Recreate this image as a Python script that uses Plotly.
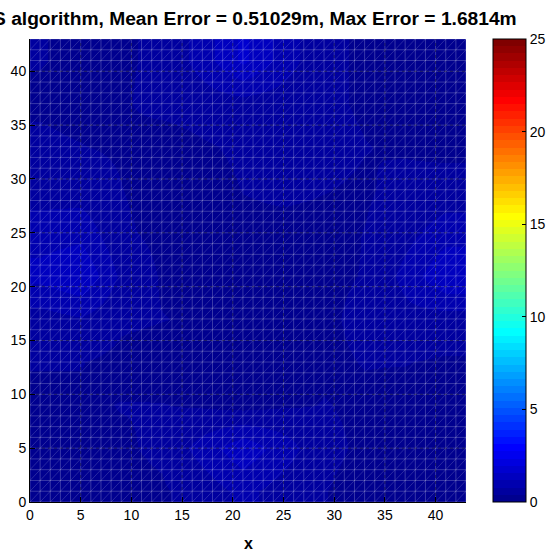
import numpy as np
import plotly.graph_objects as go

# ---------------- data ----------------
x_pts = [1, 5, 9, 13, 17, 21, 25, 29, 33, 37, 41]
y_pts = [1, 5, 9, 13, 17, 21, 25, 29, 33, 37, 41]
# rows: y = 1 ... 41 (bottom to top), columns: x = 1 ... 41
err_y1  = [0.35, 0.30, 0.30, 0.35, 0.55, 0.90, 0.60, 0.40, 0.30, 0.30, 0.35]
err_y5  = [0.35, 0.35, 0.35, 0.45, 0.95, 1.45, 1.00, 0.45, 0.35, 0.30, 0.30]
err_y9  = [0.35, 0.35, 0.40, 0.40, 0.35, 0.25, 0.35, 0.40, 0.35, 0.30, 0.30]
err_y13 = [0.40, 0.40, 0.30, 0.25, 0.35, 0.30, 0.30, 0.35, 0.40, 0.40, 0.35]
err_y17 = [0.60, 0.75, 0.45, 0.40, 0.35, 0.25, 0.25, 0.35, 0.45, 0.65, 0.60]
err_y21 = [1.30, 1.55, 0.70, 0.35, 0.30, 0.30, 0.30, 0.35, 0.40, 0.90, 1.55]
err_y25 = [1.00, 1.05, 0.45, 0.30, 0.25, 0.30, 0.30, 0.30, 0.40, 0.65, 1.00]
err_y29 = [0.60, 0.60, 0.40, 0.25, 0.25, 0.40, 0.45, 0.40, 0.35, 0.50, 0.55]
err_y33 = [0.45, 0.40, 0.35, 0.20, 0.35, 0.45, 0.40, 0.50, 0.40, 0.35, 0.30]
err_y37 = [0.35, 0.30, 0.35, 0.50, 0.55, 0.60, 0.55, 0.45, 0.35, 0.30, 0.35]
err_y41 = [0.40, 0.35, 0.35, 0.45, 0.95, 1.65, 1.00, 0.45, 0.35, 0.30, 0.35]
err_rows = [err_y1, err_y5, err_y9, err_y13, err_y17, err_y21,
            err_y25, err_y29, err_y33, err_y37, err_y41]

mesh_nodes = list(range(0, 44))          # triangulated mesh nodes 0..43
tick_vals = [0, 5, 10, 15, 20, 25, 30, 35, 40]
cbar_ticks = [0, 5, 10, 15, 20, 25]
title_text = ("<b>S algorithm, Mean Error = 0.51029m, "
              "Max Error = 1.6814m</b>")

# ---------------- MATLAB jet(64) colormap ----------------
def matlab_jet(m=64):
    n = int(np.ceil(m / 4))
    u = np.concatenate([np.arange(1, n + 1) / n, np.ones(n - 1),
                        np.arange(n, 0, -1) / n])
    g = int(np.ceil(n / 2)) - (1 if m % 4 == 1 else 0) + np.arange(1, len(u) + 1)
    r = g + n
    b = g - n
    J = np.zeros((m, 3))
    r = r[r <= m]
    g = g[g <= m]
    b = b[b >= 1]
    J[r - 1, 0] = u[:len(r)]
    J[g - 1, 1] = u[:len(g)]
    J[b - 1, 2] = u[len(u) - len(b):]
    return J

J = matlab_jet(64)
cscale = []
for i, c in enumerate(J):
    col = "rgb(%d,%d,%d)" % tuple(int(round(v * 255)) for v in c)
    cscale.append([i / 64, col])
    cscale.append([(i + 1) / 64, col])

# plot-area geometry in pixels
PL, PT, PR, PB = 30, 39, 466, 502
PW, PH = PR - PL, PB - PT

fig = go.Figure()
fig.add_trace(go.Heatmap(
    x=x_pts, y=y_pts, z=err_rows,
    zmin=0, zmax=25, zsmooth="best",
    colorscale=cscale,
    colorbar=dict(
        x=(493 - PL) / PW, xanchor="left", xref="paper", xpad=0,
        y=0, yanchor="bottom", len=1, lenmode="fraction", ypad=0,
        thickness=33, thicknessmode="pixels",
        outlinecolor="black", outlinewidth=1,
        tickvals=cbar_ticks, ticks="inside", ticklen=4,
        tickcolor="black",
        tickfont=dict(family="Arial, Liberation Sans", size=14, color="black"),
    ),
    hoverinfo="skip",
))

# mesh edges (white, translucent): verticals, horizontals, diagonals
lo, hi = mesh_nodes[0], mesh_nodes[-1]
mx, my = [], []
for k in mesh_nodes:
    mx += [k, k, None]; my += [lo, hi, None]
    mx += [lo, hi, None]; my += [k, k, None]
fig.add_trace(go.Scatter(x=mx, y=my, mode="lines",
                         line=dict(color="rgba(255,255,255,0.22)", width=1),
                         hoverinfo="skip", showlegend=False))
dx, dy = [], []
for c in range(-(hi - 1), hi):
    if c >= 0:
        dx += [c, hi, None]; dy += [lo, hi - c, None]
    else:
        dx += [lo, hi + c, None]; dy += [-c, hi, None]
fig.add_trace(go.Scatter(x=dx, y=dy, mode="lines",
                         line=dict(color="rgba(255,255,255,0.16)", width=1),
                         hoverinfo="skip", showlegend=False))

# MATLAB grid lines (dark dotted) at tick positions
gx, gy = [], []
for t in tick_vals[1:]:
    gx += [t, t, None]; gy += [lo, hi, None]
    gx += [lo, hi, None]; gy += [t, t, None]
fig.add_trace(go.Scatter(x=gx, y=gy, mode="lines",
                         line=dict(color="rgba(0,0,0,0.4)", width=1, dash="dot"),
                         hoverinfo="skip", showlegend=False))

axis_font = dict(family="Arial, Liberation Sans", size=14, color="black")
fig.update_layout(
    width=552, height=553,
    margin=dict(l=PL, r=552 - PR, t=PT, b=553 - PB, autoexpand=False),
    paper_bgcolor="white", plot_bgcolor="white",
    showlegend=False,
    font=dict(family="Arial, Liberation Sans", color="black"),
    xaxis=dict(range=[lo, hi], tickvals=tick_vals, ticks="inside",
               ticklen=5, tickcolor="black", showgrid=False, zeroline=False,
               showline=True, linecolor="black", linewidth=1,
               tickfont=axis_font, layer="above traces"),
    yaxis=dict(range=[lo, hi], tickvals=tick_vals, ticks="inside",
               ticklen=5, tickcolor="black", showgrid=False, zeroline=False,
               showline=True, linecolor="black", linewidth=1,
               tickfont=axis_font, layer="above traces"),
    annotations=[
        dict(text=title_text, xref="paper", yref="paper",
             x=(519 - PL) / PW, y=(PB - 19) / PH,
             xanchor="right", yanchor="middle", showarrow=False,
             font=dict(family="Arial, Liberation Sans", size=19.2,
                       color="black")),
        dict(text="<b>x</b>", xref="paper", yref="paper",
             x=0.5, y=-(543 - PB) / PH, xanchor="center",
             yanchor="middle", showarrow=False,
             font=dict(family="Arial, Liberation Sans", size=16,
                       color="black")),
    ],
)

fig.write_html("out.html", config={"displayModeBar": False},
               post_script="document.body.style.margin='0';")
